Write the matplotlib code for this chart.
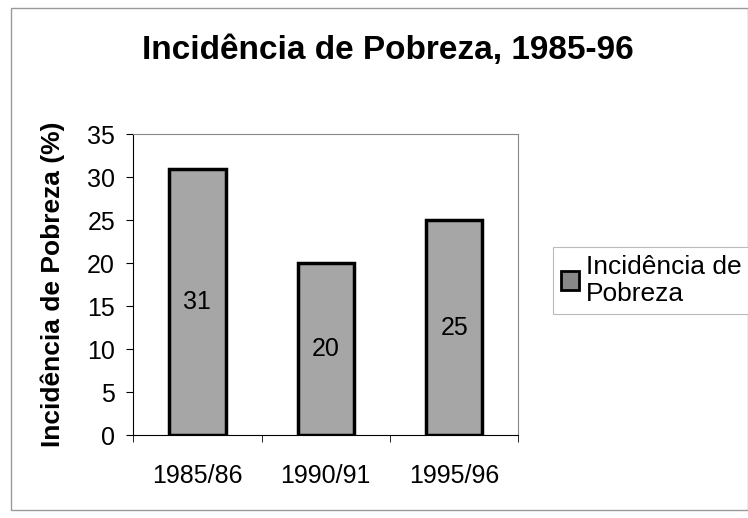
import numpy as np
import matplotlib.pyplot as plt
from matplotlib.patches import Patch, Rectangle

plt.rcParams['font.family'] = ['Liberation Sans', 'DejaVu Sans']

# data
categories = ['1985/86', '1990/91', '1995/96']
values = [31, 20, 25]
series_name = 'Incidência de\nPobreza'

fig = plt.figure(figsize=(7.48, 5.18), dpi=100)
# outer chart border
fig.patches.append(Rectangle((0.015, 0.015), 0.985, 0.97, transform=fig.transFigure,
                             fill=False, edgecolor='#999999', lw=1))
ax = fig.add_axes([0.178, 0.160, 0.515, 0.581])

x = np.arange(len(categories))
bars = ax.bar(x, values, width=0.44, color='#a6a6a6', edgecolor='black', linewidth=2.5)
for b, v in zip(bars, values):
    ax.text(b.get_x() + b.get_width() / 2, v / 2, str(v), ha='center', va='center', fontsize=18)

ax.set_xlim(-0.5, len(categories) - 0.5)
ax.set_ylim(0, 35)
ax.set_yticks(range(0, 36, 5))
ax.set_xticks(x)
ax.set_xticklabels(categories, fontsize=18)
ax.tick_params(axis='x', length=0, pad=21)
ax.set_xticks(np.arange(-0.5, len(categories), 1), minor=True)
ax.tick_params(axis='x', which='minor', length=5, direction='out')
ax.tick_params(axis='y', labelsize=18, length=5, direction='out', pad=8)

for s in ['top', 'right']:
    ax.spines[s].set_color('#888888')
for s in ['left', 'bottom']:
    ax.spines[s].set_color('black')

ax.set_ylabel('Incidência de Pobreza (%)', fontsize=19, fontweight='bold', labelpad=16)
fig.text(0.518, 0.903, 'Incidência de Pobreza, 1985-96', ha='center', va='center',
         fontsize=24, fontweight='bold')

leg = fig.legend(handles=[Patch(facecolor='#888888', edgecolor='black', lw=2, label=series_name)],
                 loc='upper left', bbox_to_anchor=(0.739, 0.523), borderaxespad=0,
                 fontsize=19, frameon=True,
                 fancybox=False, handlelength=0.7, handleheight=0.7, handletextpad=0.25,
                 borderpad=0.3, labelspacing=0.2)
leg.get_frame().set_edgecolor('#aaaaaa')
leg.get_frame().set_linewidth(0.8)
for t in leg.get_texts():
    t.set_linespacing(1.15)

fig.savefig('out.png', dpi=100)
